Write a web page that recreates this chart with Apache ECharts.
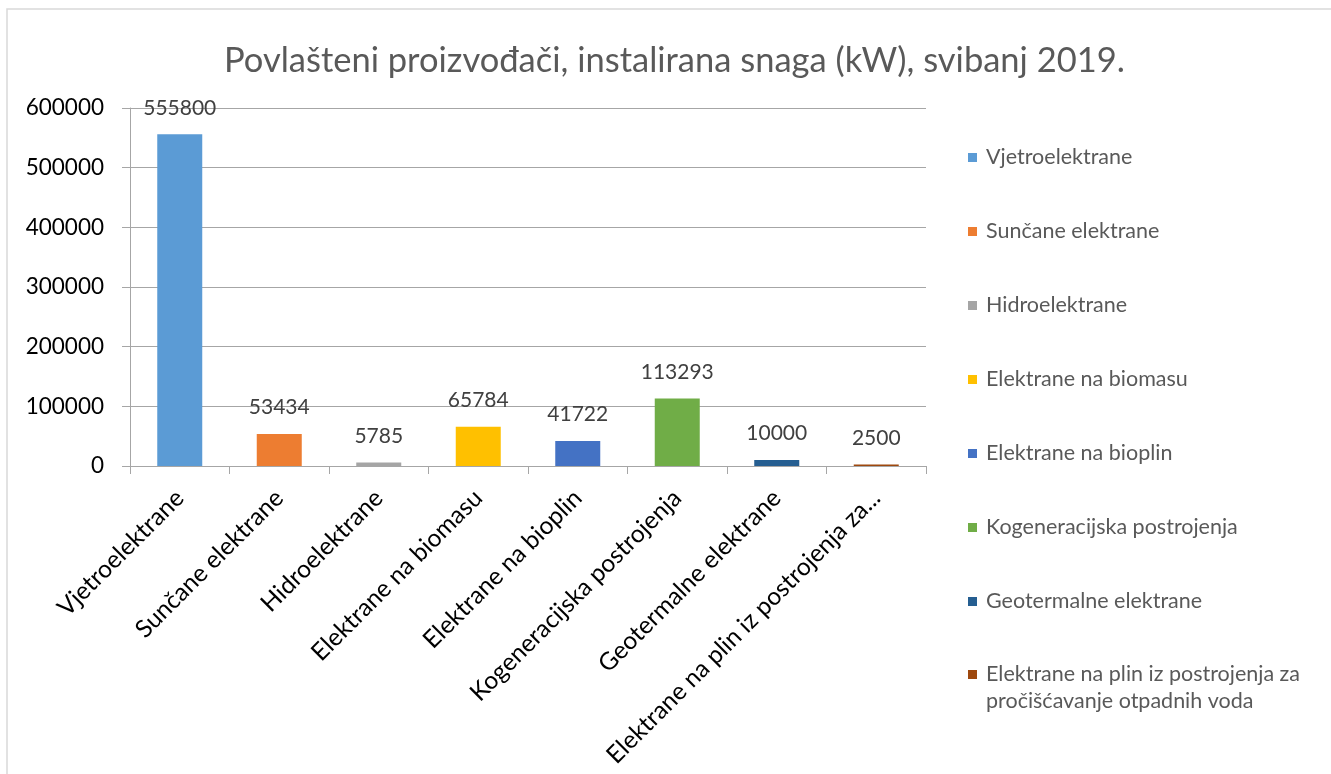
<!DOCTYPE html>
<html lang="hr">
<head>
    <meta charset="UTF-8">
    <title>Povlašteni proizvođači, instalirana snaga (kW), svibanj 2019.</title>
    <script src="https://cdn.jsdelivr.net/npm/echarts@6/dist/echarts.min.js"></script>
    <style>
        html, body { margin: 0; padding: 0; background: #fff; }
        #chart { width: 1331px; height: 774px; }
    </style>
</head>
<body>
    <div id="chart"></div>
    <script>
        // categories (full names, used for legend and axis)
        var categories = [
            'Vjetroelektrane',
            'Sunčane elektrane',
            'Hidroelektrane',
            'Elektrane na biomasu',
            'Elektrane na bioplin',
            'Kogeneracijska postrojenja',
            'Geotermalne elektrane',
            'Elektrane na plin iz postrojenja za pročišćavanje otpadnih voda'
        ];
        // installed power, kW
        var values = [555800, 53434, 5785, 65784, 41722, 113293, 10000, 2500];
        // Excel office palette
        var colors = ['#5B9BD5', '#ED7D31', '#A5A5A5', '#FFC000', '#4472C4', '#70AD47', '#255E91', '#9E480E'];
        var yTicks = { min: 0, max: 600000, interval: 100000 };

        var font = 'Lato, "Open Sans", sans-serif';
        var chart = echarts.init(document.getElementById('chart'));

        // one series per category so the legend lists each one
        var series = categories.map(function (name, i) {
            return {
                name: name,
                type: 'bar',
                stack: 'all',
                barWidth: 45,
                itemStyle: { color: colors[i] },
                label: {
                    show: true,
                    position: 'top',
                    distance: 16,
                    color: '#404040',
                    fontSize: 21,
                    fontFamily: font
                },
                data: values.map(function (v, j) { return j === i ? v : '-'; })
            };
        });

        var legendText = {
            color: '#595959',
            fontSize: 21.5,
            lineHeight: 27,
            fontFamily: font,
            padding: [0, 0, 0, 4]
        };

        // long category names get cut at a word, like Excel does
        function shortLabel(name) {
            if (name.length <= 40) return name;
            return name.slice(0, name.lastIndexOf(' ', 36)) + '...';
        }

        var option = {
            animation: false,
            title: {
                text: 'Povlašteni proizvođači, instalirana snaga (kW), svibanj 2019.',
                left: 219,
                top: 38,
                textStyle: { color: '#595959', fontSize: 34.5, fontWeight: 'normal', fontFamily: font }
            },
            legend: [{
                orient: 'vertical',
                left: 963,
                top: 139,
                icon: 'rect',
                itemWidth: 9,
                itemHeight: 9,
                itemGap: 47,
                data: categories.slice(0, 7),
                textStyle: legendText
            }, {
                // last entry wraps; an empty first line keeps the icon level with the first text line
                orient: 'vertical',
                left: 963,
                top: 629,
                icon: 'rect',
                itemWidth: 9,
                itemHeight: 9,
                data: categories.slice(7),
                formatter: function (name) { return '\n' + name; },
                textStyle: Object.assign({}, legendText, {
                    width: 335,
                    overflow: 'break'
                })
            }],
            grid: { left: 130, right: 405, top: 108, bottom: 308, containLabel: false },
            xAxis: {
                type: 'category',
                data: categories,
                axisLine: { lineStyle: { color: '#a6a6a6', width: 1 } },
                axisTick: { show: true, length: 8, lineStyle: { color: '#a6a6a6' } },
                axisLabel: {
                    interval: 0,
                    rotate: 45,
                    margin: 28,
                    color: '#000',
                    fontSize: 24.5,
                    fontFamily: font,
                    formatter: shortLabel
                }
            },
            yAxis: {
                type: 'value',
                min: yTicks.min,
                max: yTicks.max,
                interval: yTicks.interval,
                axisLine: { show: true, lineStyle: { color: '#a6a6a6' } },
                axisTick: { show: true, length: 8, lineStyle: { color: '#a6a6a6' } },
                axisLabel: {
                    margin: 26,
                    color: '#000',
                    fontSize: 22.5,
                    fontFamily: font,
                    formatter: function (v) { return String(v); }
                },
                splitLine: { lineStyle: { color: '#a6a6a6' } }
            },
            graphic: [{
                type: 'rect',
                shape: { x: 7, y: 9, width: 1400, height: 900 },
                style: { fill: 'none', stroke: '#d9d9d9', lineWidth: 1.5 },
                silent: true,
                z: -10
            }],
            series: series
        };

        chart.setOption(option);
    </script>
</body>
</html>
